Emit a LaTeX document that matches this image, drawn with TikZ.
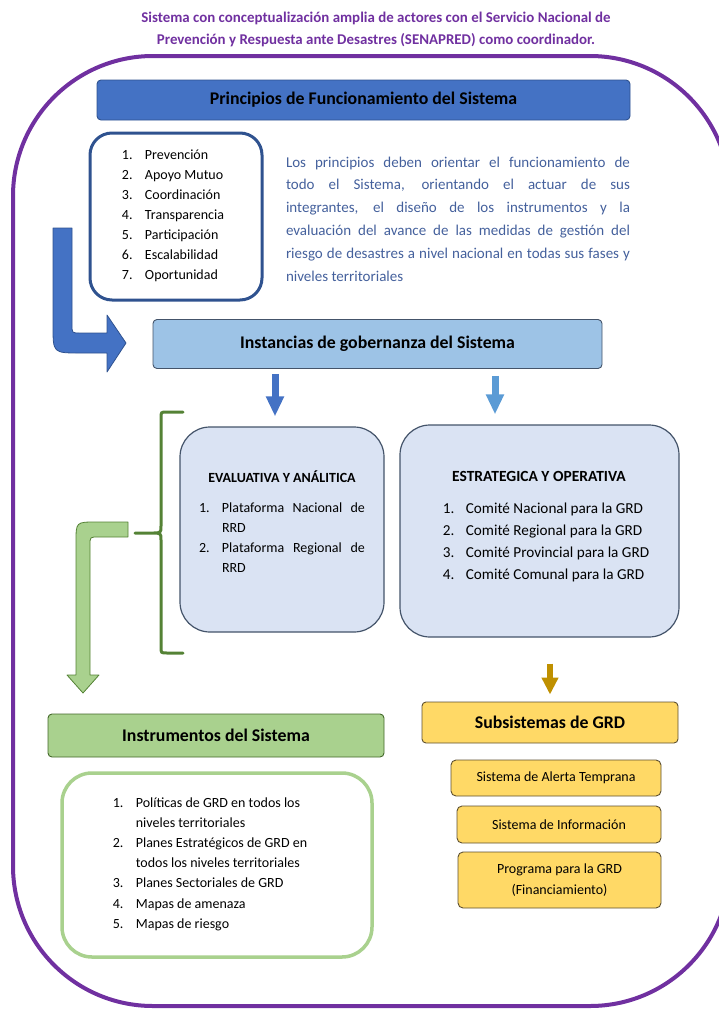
\documentclass[tikz,border=0pt]{standalone}
\usepackage{fontspec}
\setmainfont{Carlito}
\usetikzlibrary{arrows.meta,positioning}
\definecolor{frame}{HTML}{7030A0}
\definecolor{darkblue}{HTML}{4472C4}
\definecolor{darkline}{HTML}{2F528F}
\definecolor{lightblue}{HTML}{9DC3E6}
\definecolor{midblue}{HTML}{5B9BD5}
\definecolor{paleblue}{HTML}{DAE3F3}
\definecolor{slate}{HTML}{44546A}
\definecolor{partext}{HTML}{44609C}
\definecolor{leaf}{HTML}{A9D18E}
\definecolor{forest}{HTML}{548235}
\definecolor{gold}{HTML}{FFD966}
\definecolor{ochre}{HTML}{BF9000}
\definecolor{goldline}{HTML}{5E5030}
\newcommand{\nr}[1]{\makebox[23pt][l]{#1.}}
\newcommand{\ind}{\hspace*{23pt}}
\tikzset{
  headbar/.style={rectangle, rounded corners=4pt, line width=0.9pt, inner sep=0pt,
    font=\fontsize{17.8}{20}\selectfont\bfseries},
  listbox/.style={rectangle, fill=white, rounded corners=22pt, inner sep=0pt},
  panel/.style={rectangle, draw=slate, fill=paleblue, line width=1.2pt,
    rounded corners=30pt, inner sep=0pt},
  subbox/.style={rectangle, draw=goldline, fill=gold, line width=0.9pt,
    rounded corners=5pt, inner sep=0pt, align=center,
    font=\fontsize{14}{21}\selectfont},
  bodytext/.style={align=left, font=\fontsize{14}{20}\selectfont},
  shortarrow/.style={line width=7pt, -{Triangle[width=17pt,length=20pt]}},
  blockarrow/.style={line width=0.8pt, line join=round}
}
\begin{document}
\begin{tikzpicture}[x=1pt, y=-1pt]
    \useasboundingbox (0,0) rectangle (719,1010);
    % Outer frame
    \draw[frame, line width=4pt, rounded corners=140pt] (13,56) rectangle (730,1006);
    \node[text=frame, align=center, font=\fontsize{14.9}{22}\selectfont\bfseries]
        (title) at (376,29) {Sistema con conceptualización amplia de actores con el Servicio Nacional de\\
        Prevención y Respuesta ante Desastres (SENAPRED) como coordinador.};
    % Place nodes
    \node[headbar, draw=darkline, fill=darkblue, minimum width=533pt, minimum height=40pt]
        (princ) at (363.5,100) {Principios de Funcionamiento del Sistema};
    \node[listbox, draw=darkline, line width=3pt, minimum width=172pt, minimum height=167pt]
        (plist) at (176,216.5) {};
    \node[bodytext] (pitems) at (173,216) {\nr{1}Prevención\\ \nr{2}Apoyo Mutuo\\ \nr{3}Coordinación\\
        \nr{4}Transparencia\\ \nr{5}Participación\\ \nr{6}Escalabilidad\\ \nr{7}Oportunidad};
    \node[text=partext, text width=344pt, align=justify, inner sep=0pt,
        font=\fontsize{15}{22.8}\selectfont] (ptext) at (458,219)
        {Los principios deben orientar el funcionamiento de\linebreak todo el Sistema, orientando el actuar de sus\linebreak
        integrantes, el diseño de los instrumentos y la\linebreak evaluación del avance de las medidas de gestión del\linebreak
        riesgo de desastres a nivel nacional en todas sus fases y\linebreak niveles territoriales};
    \node[headbar, draw=slate, fill=lightblue, minimum width=449pt, minimum height=49pt]
        (inst) at (377.5,344) {Instancias de gobernanza del Sistema};
    \node[panel, minimum width=204pt, minimum height=205pt] (evalbox) at (282,529.5) {};
    \node[font=\fontsize{14}{16}\selectfont\bfseries] (evaltitle) at (282,477) {EVALUATIVA Y ANÁLITICA};
    \node[text width=166pt, align=justify, inner sep=0pt, font=\fontsize{14}{20}\selectfont]
        (evalitems) at (282,538) {\noindent\hangindent=23pt\hangafter=1\nr{1}Plataforma Nacional de\linebreak RRD\par
        \noindent\hangindent=23pt\hangafter=1\nr{2}Plataforma Regional de\linebreak RRD\par};
    \node[panel, minimum width=279pt, minimum height=212pt] (estr) at (539.5,531) {};
    \node[font=\fontsize{15.5}{18}\selectfont\bfseries] (estrtitle) at (539,476) {ESTRATEGICA Y OPERATIVA};
    \node[bodytext, font=\fontsize{15.2}{22}\selectfont] (estritems) at (546,542)
        {\nr{1}Comité Nacional para la GRD\\ \nr{2}Comité Regional para la GRD\\
        \nr{3}Comité Provincial para la GRD\\ \nr{4}Comité Comunal para la GRD};
    \node[headbar, draw=forest!80!black, fill=leaf, minimum width=336pt, minimum height=43pt]
        (instr) at (216,735.5) {Instrumentos del Sistema};
    \node[listbox, draw=leaf, line width=3.5pt, rounded corners=30pt, minimum width=310pt,
        minimum height=184pt] (ilist) at (217,865) {};
    \node[bodytext, font=\fontsize{14}{20.2}\selectfont] (iitems) at (210,864)
        {\nr{1}Políticas de GRD en todos los\\ \ind niveles territoriales\\
        \nr{2}Planes Estratégicos de GRD en\\ \ind todos los niveles territoriales\\
        \nr{3}Planes Sectoriales de GRD\\ \nr{4}Mapas de amenaza\\ \nr{5}Mapas de riesgo};
    \node[headbar, draw=goldline, fill=gold, minimum width=256pt, minimum height=41pt]
        (sub) at (550,722.5) {Subsistemas de GRD};
    \node[subbox, minimum width=210pt, minimum height=36pt] (alerta) at (556,778) {Sistema de Alerta Temprana};
    \node[subbox, minimum width=204pt, minimum height=37pt] (info) at (559,824.5) {Sistema de Información};
    \node[subbox, minimum width=203pt, minimum height=56pt] (prog) at (559.5,880)
        {Programa para la GRD\\(Financiamiento)};
    \coordinate (a1) at (275,375);
    \coordinate (a2) at (495,375);
    % Draw edges
    \draw[shortarrow, darkblue, shorten <=5pt, shorten >=10pt] (inst.south -| a1) -- (evalbox.north -| a1);
    \draw[shortarrow, midblue, shorten <=7pt, shorten >=10pt] (inst.south -| a2) -- (estr.north -| a2);
    \draw[shortarrow, ochre, line width=6pt, shorten <=26pt, shorten >=7pt,
        -{Triangle[width=16pt,length=17pt]}] (estr.south -| sub.north) -- (sub.north);
    % Bent arrows and bracket
    \draw[blockarrow, draw=darkline, fill=darkblue] (53,228) -- (72,228) -- (72,325)
        .. controls (72,333) .. (80,333) -- (107,333) -- (107,315) -- (126,343) -- (107,372)
        -- (107,353) -- (80,353) .. controls (53,353) .. (53,326) -- cycle;
    \draw[forest, line width=3pt, line cap=round] (135,533) -- (152,533)
        .. controls (161,533) .. (161,526) -- (161,418) .. controls (161,412) .. (167,412) -- (183,412)
        (152,533) .. controls (161,533) .. (161,540) -- (161,647) .. controls (161,653) .. (167,653) -- (183,653);
    \draw[blockarrow, draw=forest, fill=leaf] (128,522) -- (128,537) -- (98,537)
        .. controls (90,537) .. (90,545) -- (90,675) -- (99,675) -- (83,693) -- (67,675)
        -- (76,675) -- (76,542) .. controls (76,522) .. (96,522) -- cycle;
\end{tikzpicture}
\end{document}
